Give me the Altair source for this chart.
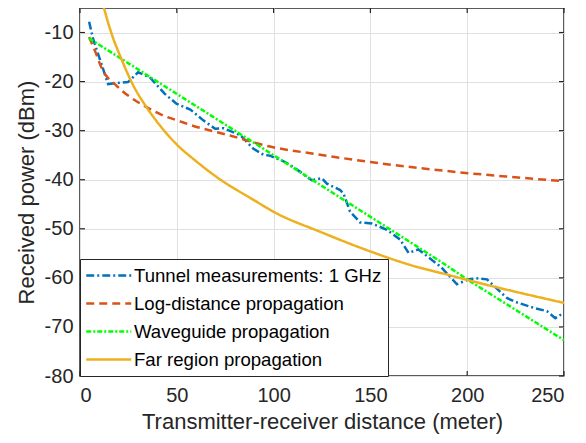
import altair as alt
import pandas as pd

# ---- data ----
meas_d = [4.7, 6.7, 14.5, 19.0, 24.8, 30.0, 36.0, 43.8, 49.8, 57.0, 63.7, 69.8, 74.0, 82.7,
          89.6, 94.7, 98.2, 106.0, 110.2, 113.7, 119.7, 124.9, 127.5, 134.4, 136.1, 139.5,
          144.7, 150.7, 158.5, 165.4, 169.7, 174.8, 186.5, 194.7, 200.7, 205.8, 210.2,
          220.5, 224.8, 234.3, 241.2, 245.5, 250.0]
meas_p = [-7.8, -11.2, -20.5, -20.3, -20.1, -18.1, -19.1, -22.5, -24.5, -25.7, -27.9, -29.6,
          -29.5, -30.9, -33.7, -34.9, -35.1, -36.4, -37.4, -38.4, -40.1, -39.7, -40.8, -42.1,
          -42.8, -46.5, -48.7, -48.9, -50.2, -52.2, -54.9, -54.2, -57.8, -61.3, -60.3, -60.1,
          -60.3, -64.1, -64.9, -66.1, -66.8, -68.2, -67.1]

logd_d = [4.7, 8.4, 11.0, 18.8, 25.7, 33.4, 41.2, 52.4, 56.8, 77.5, 96.5, 124.0, 150.0,
          175.0, 201.6, 225.0, 250.0]
logd_p = [-10.9, -14.4, -17.1, -20.8, -23.1, -25.0, -26.6, -28.2, -28.8, -31.0, -33.1,
          -34.9, -36.4, -37.6, -38.7, -39.5, -40.3]

wg_d = [4.7, 56.8, 100.0, 186.0, 200.7, 250.0]
wg_p = [-11.2, -24.2, -35.0, -56.6, -60.5, -72.7]

far_d = [11.0, 12.3, 16.2, 21.4, 27.4, 34.0, 41.2, 52.6, 56.8, 71.5, 89.6, 100.8, 124.0,
         149.9, 170.0, 190.3, 211.9, 230.0, 250.0]
far_p = [-3.0, -4.9, -10.1, -15.4, -20.7, -25.0, -28.9, -33.8, -35.2, -39.7, -44.1, -46.7,
         -50.6, -54.6, -57.3, -59.4, -61.6, -63.3, -65.1]

series_names = ["Tunnel measurements: 1 GHz", "Log-distance propagation",
                "Waveguide propagation", "Far region propagation"]
series_colors = ["#0072BD", "#D95319", "#00FF00", "#EDB120"]
series_dashes = [[8, 3, 2, 3], [8, 5], [5, 2, 2, 2], [1, 0]]
series_interp = ["linear", "monotone", "linear", "monotone"]

x_ticks = [0, 50, 100, 150, 200, 250]
y_ticks = [-80, -70, -60, -50, -40, -30, -20, -10]

# ---- build table ----
rows = []
for name, ds, ps in zip(series_names, [meas_d, logd_d, wg_d, far_d], [meas_p, logd_p, wg_p, far_p]):
    for i, (d, p) in enumerate(zip(ds, ps)):
        rows.append({"series": name, "d": d, "p": p, "i": i})
df = pd.DataFrame(rows)

W, H = 484, 368
FONT = "Liberation Sans"
AX = "#262626"

xscale = alt.Scale(domain=[0, 250], nice=False, zero=False)
yscale = alt.Scale(domain=[-80, -5], nice=False, zero=False)

xaxis = alt.Axis(values=x_ticks, title="Transmitter-receiver distance (meter)", grid=True,
                 ticks=False, domain=False, labelFontSize=20, titleFontSize=22,
                 labelPadding=9, titlePadding=6, labelExpr="'' + datum.value")
yaxis = alt.Axis(values=y_ticks, title="Received power (dBm)", grid=True, ticks=False,
                 domain=False, labelFontSize=20, titleFontSize=22, labelPadding=7,
                 titlePadding=6, labelExpr="'' + datum.value")

legend = alt.Legend(title=None, orient="bottom-left", offset=0,
                    symbolType="M-2.5,0H2.5", symbolSize=324, symbolStrokeWidth=2.5,
                    symbolOffset=12.25, labelOffset=14.75,
                    labelFontSize=18.6, labelFont=FONT, labelColor="#000000",
                    fillColor="white", strokeColor=AX, padding=6, rowPadding=7,
                    labelLimit=400)

color = alt.Color("series:N", scale=alt.Scale(domain=series_names, range=series_colors),
                  legend=legend)
dash = alt.StrokeDash("series:N", scale=alt.Scale(domain=series_names, range=series_dashes),
                      legend=legend)

base = alt.Chart(df)
layers = []
for name, interp in zip(series_names, series_interp):
    layers.append(
        base.transform_filter(alt.datum.series == name)
        .mark_line(strokeWidth=2.5, clip=True, interpolate=interp)
        .encode(x=alt.X("d:Q", scale=xscale, axis=xaxis),
                y=alt.Y("p:Q", scale=yscale, axis=yaxis),
                color=color, strokeDash=dash, order="i:Q")
    )

xt = pd.DataFrame({"d": x_ticks})
yt = pd.DataFrame({"p": y_ticks})
tick_style = dict(color=AX, strokeWidth=1.2)
bottom_ticks = alt.Chart(xt).mark_rule(**tick_style).encode(
    x=alt.X("d:Q", scale=xscale, axis=xaxis), y=alt.value(H), y2=alt.value(H - 5))
top_ticks = alt.Chart(xt).mark_rule(**tick_style).encode(
    x=alt.X("d:Q", scale=xscale, axis=xaxis), y=alt.value(0), y2=alt.value(5))
left_ticks = alt.Chart(yt).mark_rule(**tick_style).encode(
    y=alt.Y("p:Q", scale=yscale, axis=yaxis), x=alt.value(0), x2=alt.value(5))
right_ticks = alt.Chart(yt).mark_rule(**tick_style).encode(
    y=alt.Y("p:Q", scale=yscale, axis=yaxis), x=alt.value(W), x2=alt.value(W - 5))

chart = alt.layer(*layers, bottom_ticks, top_ticks, left_ticks, right_ticks).properties(
    width=W, height=H,
    autosize=alt.AutoSizeParams(type="none"),
    padding={"left": 72, "top": 0, "right": 14, "bottom": 59},
    background="white",
).configure_view(
    stroke=AX, strokeWidth=1.5
).configure_axis(
    labelFont=FONT, titleFont=FONT, labelColor=AX, titleColor=AX,
    titleFontWeight="normal", gridColor="#e0e0e0", gridWidth=1, gridOpacity=1
)

chart.save("out.html", embed_options={"renderer": "svg", "actions": False})
